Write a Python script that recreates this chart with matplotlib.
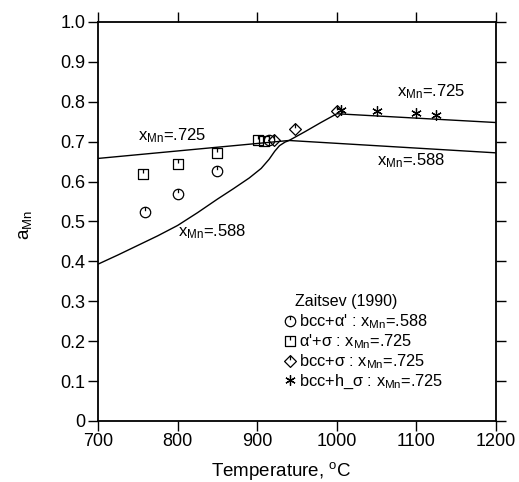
import matplotlib
matplotlib.use("Agg")
import matplotlib.pyplot as plt
from matplotlib.path import Path
from matplotlib.lines import Line2D

plt.rcParams['font.family'] = ['Liberation Sans', 'DejaVu Sans']
plt.rcParams['mathtext.fontset'] = 'custom'
plt.rcParams['mathtext.rm'] = 'Liberation Sans'
plt.rcParams['mathtext.it'] = 'Liberation Sans:italic'

# -----------------------------
# data
# -----------------------------
# calculated phase boundary curves
T_upper = [700, 940, 1200]
a_upper = [0.658, 0.703, 0.672]

T_lower = [700, 725, 750, 775, 800, 825, 850, 870, 890, 905, 915, 922, 928, 935,
           940, 960, 980, 1000, 1100, 1200]
a_lower = [0.393, 0.416, 0.440, 0.464, 0.490, 0.522, 0.556, 0.582, 0.609, 0.633,
           0.656, 0.676, 0.690, 0.699, 0.703, 0.725, 0.748, 0.770, 0.759, 0.748]

# Zaitsev (1990) measurements
T_circ = [759, 800, 850, 915]
a_circ = [0.523, 0.570, 0.627, 0.703]
T_sq = [757, 800, 850, 901, 909]
a_sq = [0.620, 0.645, 0.672, 0.703, 0.702]
T_dia = [921, 948, 1000]
a_dia = [0.705, 0.732, 0.777]
T_star = [1005, 1050, 1100, 1125]
a_star = [0.780, 0.776, 0.772, 0.767]

legend_title = "Zaitsev (1990)"
legend_labels = [r"bcc+α' : x$_{\rm Mn}$=.588",
                 r"α'+σ : x$_{\rm Mn}$=.725",
                 r"bcc+σ : x$_{\rm Mn}$=.725",
                 r"bcc+h_σ : x$_{\rm Mn}$=.725"]

# -----------------------------
# marker shapes with a tick from the top
# -----------------------------
def with_tick(outline):
    tick = Path([(0, 1), (0, 0.25)], [Path.MOVETO, Path.LINETO])
    return Path.make_compound_path(outline, tick)

m_circ = with_tick(Path.unit_circle())
m_sq = with_tick(Path([(-1, -1), (1, -1), (1, 1), (-1, 1), (-1, -1)],
                      [Path.MOVETO, Path.LINETO, Path.LINETO, Path.LINETO, Path.CLOSEPOLY]))
m_dia = with_tick(Path([(0, -1.25), (1.25, 0), (0, 1.25), (-1.25, 0), (0, -1.25)],
                       [Path.MOVETO, Path.LINETO, Path.LINETO, Path.LINETO, Path.CLOSEPOLY]))

mk = dict(ls='none', mfc='none', mec='black', mew=0.9, color='black')

fig = plt.figure(figsize=(5.19, 4.82), dpi=100)
ax = fig.add_axes([0.1888, 0.1266, 0.7669, 0.8278])

ax.plot(T_upper, a_upper, color='black', lw=1.0)
ax.plot(T_lower, a_lower, color='black', lw=1.0)

ax.plot(T_circ, a_circ, marker=m_circ, ms=7.5, **mk)
ax.plot(T_sq, a_sq, marker=m_sq, ms=7.5, **mk)
ax.plot(T_dia, a_dia, marker=m_dia, ms=8.5, **mk)
ax.plot(T_star, a_star, marker=(6, 2, 0), ms=7.5, **mk)

# curve labels
ax.text(750, 0.703, r"x$_{\rm Mn}$=.725", fontsize=12)
ax.text(800, 0.463, r"x$_{\rm Mn}$=.588", fontsize=12)
ax.text(1075, 0.813, r"x$_{\rm Mn}$=.725", fontsize=12)
ax.text(1050, 0.641, r"x$_{\rm Mn}$=.588", fontsize=12)

# legend: title placed by hand, entries through ax.legend
ax.text(947, 0.30, legend_title, fontsize=11.5, va='center', ha='left')
handles = [Line2D([], [], marker=m_circ, ms=7.5, **mk),
           Line2D([], [], marker=m_sq, ms=7.5, **mk),
           Line2D([], [], marker=m_dia, ms=8.5, **mk),
           Line2D([], [], marker=(6, 2, 0), ms=7.5, **mk)]
leg = ax.legend(handles, legend_labels, loc='lower left',
                bbox_to_anchor=(0.45, 0.055), frameon=False, fontsize=11.8,
                handlelength=0.6, handletextpad=0.25,
                labelspacing=0.08, borderpad=0)

ax.set_xlim(700, 1200)
ax.set_ylim(0, 1.0)
ax.set_xticks([700, 800, 900, 1000, 1100, 1200])
ax.set_yticks([0, 0.1, 0.2, 0.3, 0.4, 0.5, 0.6, 0.7, 0.8, 0.9, 1.0])
ax.set_yticklabels(['0', '0.1', '0.2', '0.3', '0.4', '0.5', '0.6', '0.7', '0.8', '0.9', '1.0'])
ax.tick_params(direction='out', length=7, width=1.0, labelsize=13,
               top=True, right=True, pad=2)
for s in ax.spines.values():
    s.set_linewidth(1.3)

ax.set_xlabel(r"Temperature, $^{\rm o}$C", fontsize=13.5)
ax.xaxis.set_label_coords(0.46, -0.098)
ax.set_ylabel(r"a$_{\rm Mn}$", fontsize=13.5)
ax.yaxis.set_label_coords(-0.16, 0.49)

fig.savefig("out.png", dpi=100)
